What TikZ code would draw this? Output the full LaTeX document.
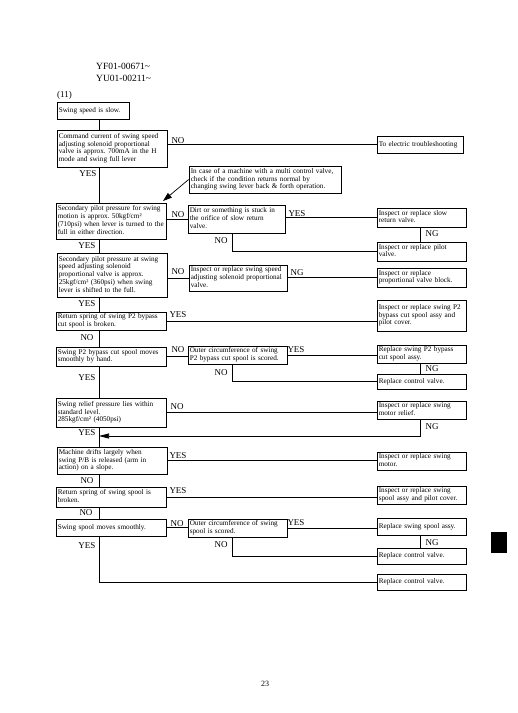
\documentclass[tikz,border=0pt]{standalone}
\usepackage{fontspec}
\setmainfont{Liberation Serif}
\usetikzlibrary{arrows.meta,calc}
\frenchspacing
\renewcommand\arraystretch{0.9}
\newcommand\bx[6]{%
  \pgfmathsetmacro\bxw{#4-#2}%
  \pgfmathsetmacro\bxh{#5-#3}%
  \pgfmathsetmacro\bxt{#4-#2-3.5}%
  \node[box, minimum width=\bxw pt, minimum height=\bxh pt, text width=\bxt pt] (#1) at ({(#2+#4)/2},{(#3+#5)/2}) {\begin{tabular}{@{}l@{}}#6\end{tabular}};}
\begin{document}
\begin{tikzpicture}[x=1pt,y=-1pt,
  box/.style={draw, line width=0.7pt, inner xsep=1.75pt, inner ysep=0pt, align=left,
    font=\fontsize{7.2}{8.6}\selectfont},
  lbl/.style={font=\fontsize{9}{10}\selectfont, inner sep=0pt},
  conn/.style={line width=0.7pt}]
\useasboundingbox (0,0) rectangle (518,713);
\coordinate (spine) at (99,0);
\coordinate (ngx) at (420,0);
\coordinate (brx) at (232,0);
% header
\node[lbl, font=\fontsize{9.5}{11}\selectfont, anchor=west] (h1) at (96,66) {YF01-00671\textasciitilde};
\node[lbl, font=\fontsize{9.5}{11}\selectfont, anchor=west] (h2) at (96,78) {YU01-00211\textasciitilde};
\node[lbl, anchor=west] (h3) at (57,95) {(11)};
% boxes
\bx{slow}{57}{102}{129}{119}{Swing speed is slow.}
\bx{cmd}{57}{130}{167}{167}{Command current of swing speed\\adjusting solenoid proportional\\valve is approx. 700mA in the H\\mode and swing full lever}
\bx{elec}{377}{136}{463}{153}{To electric troubleshooting}
\bx{note}{189}{166}{341}{193}{In case of a machine with a multi control valve,\\check if the condition returns normal by\\changing swing lever back \& forth operation.}
\bx{sp1}{56}{203}{166}{239}{Secondary pilot pressure for swing\\motion is approx. 50kgf/cm²\\(710psi) when lever is turned to the\\full in either direction.}
\bx{dirt}{188}{205}{285}{233}{Dirt or something is stuck in\\the orifice of slow return\\valve.}
\bx{slowret}{377}{208}{466}{227}{Inspect or replace slow\\return valve.}
\bx{pilotv}{377}{242}{466}{261}{Inspect or replace pilot\\valve.}
\bx{sp2}{57}{253}{167}{297}{Secondary pilot pressure at swing\\speed adjusting solenoid\\proportional valve is approx.\\25kgf/cm² (360psi) when swing\\lever is shifted to the full.}
\bx{swsp}{189}{265}{287}{291}{Inspect or replace swing speed\\adjusting solenoid proportional\\valve.}
\bx{propblk}{377}{268}{466}{287}{Inspect or replace\\proportional valve block.}
\bx{rs1}{56}{312}{166}{330}{Return spring of swing P2 bypass\\cut spool is broken.}
\bx{p2assy}{377}{300}{466}{331}{Inspect or replace swing P2\\bypass cut spool assy and\\pilot cover.}
\bx{p2move}{56}{347}{166}{366}{Swing P2 bypass cut spool moves\\smoothly by hand.}
\bx{outer1}{188}{346}{287}{364}{Outer circumference of swing\\P2 bypass cut spool is scored.}
\bx{repl1}{377}{345}{466}{363}{Replace swing P2 bypass\\cut spool assy.}
\bx{ctrl1}{377}{374}{466}{389}{Replace control valve.}
\bx{relief}{56}{398}{166}{427}{Swing relief pressure lies within\\standard level.\\285kgf/cm² (4050psi)}
\bx{motrel}{377}{401}{466}{419}{Inspect or replace swing\\motor relief.}
\bx{drift}{57}{447}{167}{474}{Machine drifts largely when\\swing P/B is released (arm in\\action) on a slope.}
\bx{motor}{377}{452}{466}{470}{Inspect or replace swing\\motor.}
\bx{rs2}{56}{487}{166}{507}{Return spring of swing spool is\\broken.}
\bx{spoolassy}{377}{486}{466}{504}{Inspect or replace swing\\spool assy and pilot cover.}
\bx{smooth}{56}{519}{166}{536}{Swing spool moves smoothly.}
\bx{outer2}{188}{519}{287}{537}{Outer circumference of swing\\spool is scored.}
\bx{replspool}{377}{518}{466}{535}{Replace swing spool assy.}
\bx{ctrl2}{377}{548}{466}{564}{Replace control valve.}
\bx{ctrl3}{377}{574}{466}{590}{Replace control valve.}
% labels
\node[lbl] (l1) at (178,141) {NO};
\node[lbl] (l2) at (88,174) {YES};
\node[lbl] (l3) at (178,215) {NO};
\node[lbl] (l4) at (297,214) {YES};
\node[lbl] (l5) at (432,234) {NG};
\node[lbl] (l6) at (221,241) {NO};
\node[lbl] (l7) at (87,246) {YES};
\node[lbl] (l8) at (178,272) {NO};
\node[lbl] (l9) at (297,273) {NG};
\node[lbl] (l10) at (87,304) {YES};
\node[lbl] (l11) at (178,315) {YES};
\node[lbl] (l12) at (87,338) {NO};
\node[lbl] (l13) at (178,350) {NO};
\node[lbl] (l14) at (296,350) {YES};
\node[lbl] (l15) at (432,369) {NG};
\node[lbl] (l16) at (221,373) {NO};
\node[lbl] (l17) at (87,378) {YES};
\node[lbl] (l18) at (177,407) {NO};
\node[lbl] (l19) at (432,427) {NG};
\node[lbl] (l20) at (87,433) {YES};
\node[lbl] (l21) at (178,456) {YES};
\node[lbl] (l22) at (87,481) {NO};
\node[lbl] (l23) at (178,491) {YES};
\node[lbl] (l24) at (86,513) {NO};
\node[lbl] (l25) at (177,524) {NO};
\node[lbl] (l26) at (296,523) {YES};
\node[lbl] (l27) at (432,543) {NG};
\node[lbl] (l28) at (221,545) {NO};
\node[lbl] (l29) at (87,546) {YES};
% connectors
\draw[conn] (slow.south -| spine) -- (cmd.north -| spine);
\draw[conn] (cmd.south -| spine) -- (sp1.north -| spine);
\draw[conn] (cmd.east |- elec.west) -- (elec.west);
\coordinate (arrtip) at (163,201);
\draw[conn,-{Triangle[length=9pt,width=6pt]}] (note.west) -- (arrtip);
\draw[conn] (sp1.east |- dirt.west) -- (dirt.west);
\draw[conn] (dirt.east |- slowret.west) -- (slowret.west);
\draw[conn] (slowret.south -| ngx) -- (pilotv.north -| ngx);
\draw[conn] (dirt.south -| brx) |- (pilotv.west);
\draw[conn] (sp1.south -| spine) -- (sp2.north -| spine);
\draw[conn] (sp2.east |- swsp.west) -- (swsp.west);
\draw[conn] (swsp.east |- propblk.west) -- (propblk.west);
\draw[conn] (sp2.south -| spine) -- (rs1.north -| spine);
\draw[conn] (rs1.east) -- (p2assy.west |- rs1.east);
\draw[conn] (rs1.south -| spine) -- (p2move.north -| spine);
\draw[conn] (p2move.east) -- (outer1.west |- p2move.east);
\draw[conn] (outer1.east) -- (repl1.west |- outer1.east);
\draw[conn] (repl1.south -| ngx) -- (ctrl1.north -| ngx);
\draw[conn] (outer1.south -| brx) |- (ctrl1.west);
\draw[conn] (p2move.south -| spine) -- (relief.north -| spine);
\draw[conn] (relief.east) -- (motrel.west |- relief.east);
\coordinate (retpt) at (99,436);
\draw[conn,-{Triangle[length=10pt,width=5pt]}] (motrel.south -| ngx) |- (retpt);
\draw[conn] (relief.south -| spine) -- (drift.north -| spine);
\draw[conn] (drift.east) -- (motor.west |- drift.east);
\draw[conn] (drift.south -| spine) -- (rs2.north -| spine);
\draw[conn] (rs2.east) -- (spoolassy.west |- rs2.east);
\draw[conn] (rs2.south -| spine) -- (smooth.north -| spine);
\draw[conn] (smooth.east) -- (outer2.west |- smooth.east);
\draw[conn] (outer2.east) -- (replspool.west |- outer2.east);
\draw[conn] (replspool.south -| ngx) -- (ctrl2.north -| ngx);
\draw[conn] (outer2.south -| brx) |- (ctrl2.west);
\draw[conn] (smooth.south -| spine) |- (ctrl3.west);
% page number and tab
\node[lbl, font=\fontsize{8}{9}\selectfont] (pg) at (265,684) {23};
\fill (491,532) rectangle (507,553);
\end{tikzpicture}
\end{document}
